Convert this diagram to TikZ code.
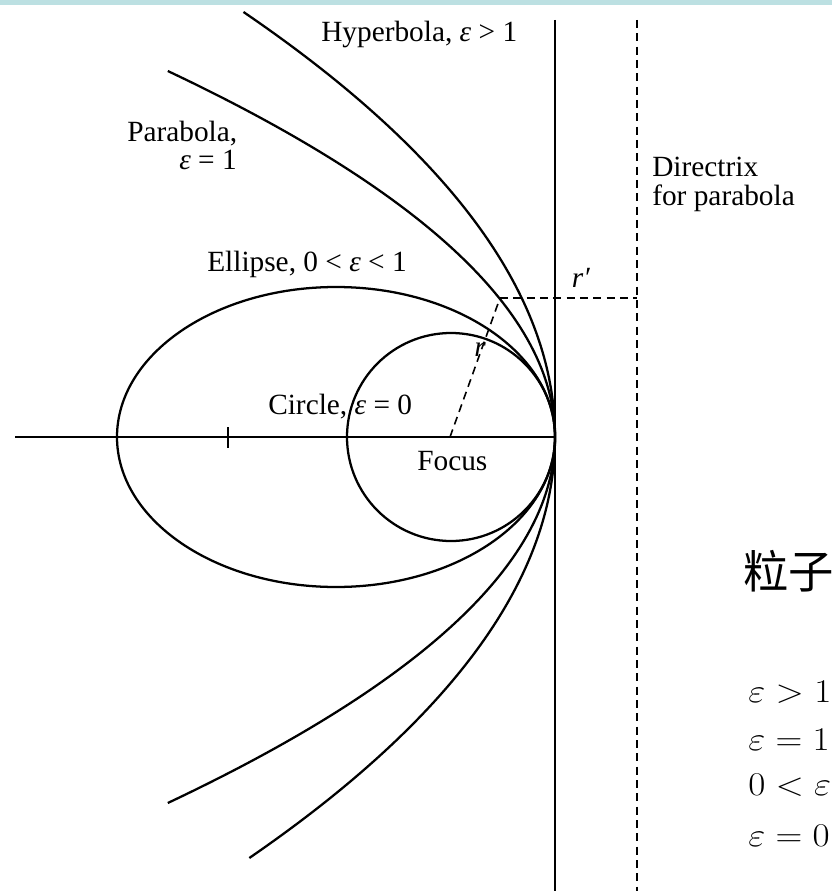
\documentclass[tikz,border=0pt]{standalone}
\usepackage{fontspec}
\setmainfont{Liberation Serif}
\newfontfamily\cjk{Noto Sans CJK SC}
\definecolor{barteal}{HTML}{BCE0E2}
\begin{document}
\begin{tikzpicture}[x=0.75pt,y=-0.75pt,
  curve/.style={line width=1.7pt},
  solidline/.style={line width=1.8pt},
  dsh/.style={line width=1.2pt, dash pattern=on 6pt off 4pt},
  lbl/.style={inner sep=0pt, font=\fontsize{22}{26}\selectfont},
  eqn/.style={inner sep=0pt, anchor=base west, xscale=1.12, font=\fontsize{24}{28}\selectfont}]
\useasboundingbox (0,0) rectangle (832,891);
\fill[barteal] (0,0) rectangle (832,5);
% key points
\coordinate (F) at (450,437);
\coordinate (V) at (555,437);
\coordinate (P) at (500,298);
\coordinate (D) at (637,298);
\coordinate (Dtop) at (637,20);
\coordinate (Dbot) at (637,891);
\coordinate (Vtop) at (555,20);
\coordinate (Vbot) at (555,891);
\coordinate (Aleft) at (15,437);
\coordinate (T1) at (228,427);
\coordinate (T2) at (228,448);
% axes
\draw[solidline] (Aleft) -- (V);
\draw[solidline] (T1) -- (T2);
\draw[solidline] (Vtop) -- (Vbot);
\draw[dsh] (Dtop) -- (Dbot);
\draw[dsh] (F) -- (P);
\draw[dsh] (P) -- (D);
% conics
\draw[curve] (451,437) circle[radius=78pt];
\draw[curve] (336,437) ellipse[x radius=164.25pt, y radius=112.5pt];
\draw[curve] plot[domain=-366:366, samples=121, smooth] ({555-(\x/18.6)*(\x/18.6)},{437+\x});
\draw[curve] plot[domain=-425:421, samples=121, smooth] ({555-(\x/24.08)*(\x/24.08)},{437+\x});
% labels
\node[lbl, anchor=base west] (hyp) at (321,42) {Hyperbola, \textit{ε} > 1};
\node[lbl, anchor=base west] (par) at (127,142) {Parabola,};
\node[lbl, anchor=base east] (pare) at (237,170) {\textit{ε} = 1};
\node[lbl, anchor=base west] (ell) at (207,271) {Ellipse, 0 < \textit{ε} < 1};
\node[lbl, anchor=base west] (cir) at (268,414) {Circle, \textit{ε} = 0};
\node[lbl, anchor=base west] (foc) at (417,470) {Focus};
\node[lbl, anchor=base west] (dir1) at (652,177) {Directrix};
\node[lbl, anchor=base west] (dir2) at (652,205) {for parabola};
\node[lbl] (rl) at (480,350) {\textit{r}};
\node[lbl] (rpl) at (581,278) {\textit{r′}};
% right side
\node[inner sep=0pt, anchor=base west, font=\cjk\fontsize{34}{40}\selectfont] (zh) at (743,588) {粒子};
\node[eqn] (e1) at (748,702) {$\varepsilon > 1$};
\node[eqn] (e2) at (748,750) {$\varepsilon = 1$};
\node[eqn] (e3) at (748,795) {$0 < \varepsilon$};
\node[eqn] (e4) at (748,846) {$\varepsilon = 0$};
\end{tikzpicture}
\end{document}
